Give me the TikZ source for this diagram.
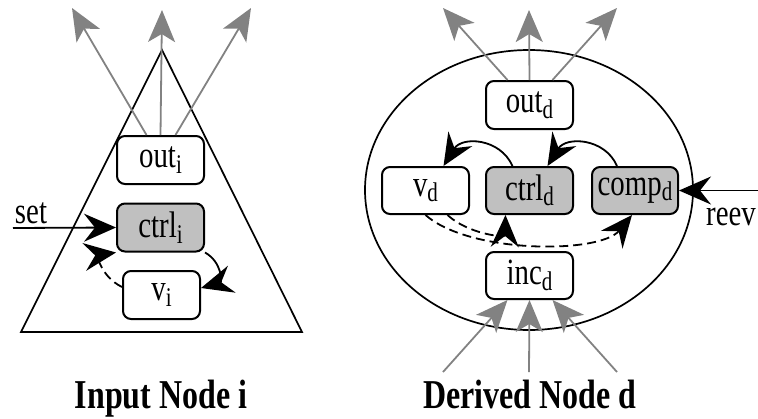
\documentclass[tikz,border=0pt]{standalone}
\usepackage{fontspec}
\setmainfont{Liberation Serif}[FakeStretch=0.78]
\usetikzlibrary{arrows.meta,calc}
\definecolor{boxgray}{RGB}{192,192,192}
\definecolor{arrgray}{RGB}{130,130,130}
\newcommand\sbs[1]{\raisebox{-5.5pt}{\fontsize{27}{28}\selectfont #1}}
\tikzset{
  box/.style={draw=black,line width=2pt,rounded corners=8pt,fill=white,
    minimum width=87pt,minimum height=48pt,inner sep=0pt,
    font=\fontsize{37}{40}\selectfont},
  gbox/.style={box,fill=boxgray},
  garr/.style={draw=arrgray,line width=1.8pt,-{Stealth[length=32pt,width=27pt,inset=8pt]}},
  barr/.style={draw=black,line width=1.8pt,-{Stealth[length=32pt,width=28pt,inset=11pt]}},
  darr/.style={barr,dash pattern=on 9pt off 5pt},
  lbl/.style={font=\fontsize{37}{40}\selectfont,inner sep=0pt},
  captxt/.style={font=\fontsize{41}{44}\selectfont\bfseries,inner sep=0pt,anchor=base}}
\begin{document}
\begin{tikzpicture}[x=1pt,y=-1pt]
\useasboundingbox (0,0) rectangle (758,418);
% ---------- Input node ----------
\draw[line width=1.7pt] (162,50) -- (302,332) -- (21,332) -- cycle;
\node[box] (outi) at (160.5,160) {out\sbs{i}};
\node[gbox] (ctrli) at (160.5,227.5) {ctrl\sbs{i}};
\node[box,minimum width=77pt] (vi) at (161.5,295) {v\sbs{i}};
\coordinate (ti1) at (72,8);
\coordinate (ti2) at (162,10);
\coordinate (ti3) at (251,8);
\draw[garr] ($(outi.north)+(-14,0)$) -- (ti1);
\draw[garr] (outi.north) -- (ti2);
\draw[garr] ($(outi.north)+(15,0)$) -- (ti3);
\coordinate (sets) at (13,228);
\draw[barr] (sets) -- (ctrli.west);
\node[lbl] (setl) at (31,213) {set};
\draw[barr] (ctrli.south east) .. controls (222,262) and (222,282) .. ($(vi.east)+(0,-7)$);
\draw[darr] ($(vi.west)+(0,-8)$) .. controls (100,276) and (98,255) .. (ctrli.south west);
\node[captxt] (capi) at (161,408) {Input Node i};
% ---------- Derived node ----------
\draw[line width=1.7pt] (529,190) ellipse [x radius=164, y radius=140];
\node[box] (outd) at (529.5,105) {out\sbs{d}};
\node[box,minimum height=47pt] (vd) at (425.5,190.5) {v\sbs{d}};
\node[gbox,minimum height=47pt] (ctrld) at (529.5,190.5) {ctrl\sbs{d}};
\node[gbox,minimum height=47pt,minimum width=86pt] (compd) at (635,190.5) {comp\sbs{d}};
\node[box,minimum height=47pt] (incd) at (529.5,275.5) {inc\sbs{d}};
\coordinate (td1) at (443,8);
\coordinate (td2) at (529,10);
\coordinate (td3) at (617,8);
\draw[garr] ($(outd.north)+(-22,0)$) -- (td1);
\draw[garr] (outd.north) -- (td2);
\draw[garr] ($(outd.north)+(23,0)$) -- (td3);
\coordinate (bd1) at (443,372);
\coordinate (bd2) at (529,372);
\coordinate (bd3) at (617,372);
\draw[garr] (bd1) -- ($(incd.south)+(-22,0)$);
\draw[garr] (bd2) -- (incd.south);
\draw[garr] (bd3) -- ($(incd.south)+(23,0)$);
\coordinate (rs) at (758,190.5);
\draw[barr] (rs) -- (compd.east);
\node[lbl] (reevl) at (731,217) {reev};
\draw[barr] ($(ctrld.north)+(-17,0)$) .. controls (500,138) and (462,136) .. ($(vd.north)+(18,0)$);
\draw[barr] ($(compd.north)+(-18,0)$) .. controls (605,138) and (566,136) .. ($(ctrld.north)+(18,0)$);
\draw[darr] ($(vd.south)+(22,0)$) .. controls (468,234) and (505,238) .. ($(ctrld.south)+(-24,0)$);
\draw[darr] ($(vd.south)+(0,0)$) .. controls (470,254) and (600,254) .. ($(compd.south)+(-3,0)$);
\node[captxt] (capd) at (530,408) {Derived Node d};
\end{tikzpicture}
\end{document}
